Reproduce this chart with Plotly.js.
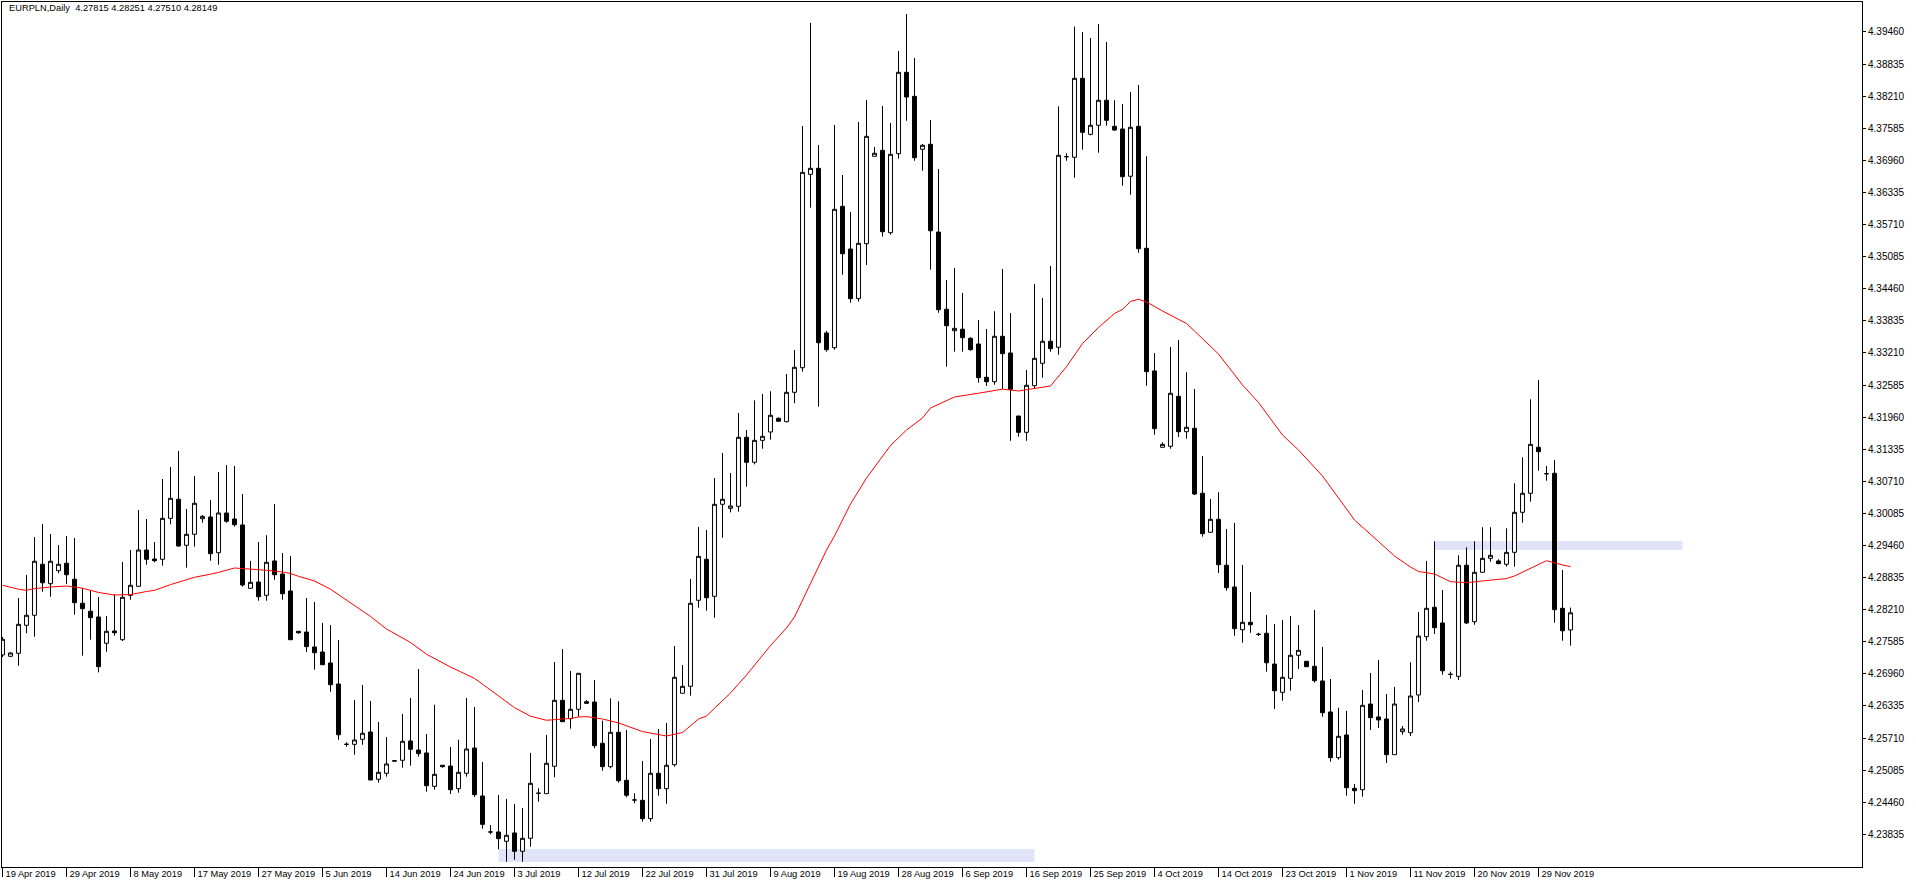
<!DOCTYPE html>
<html>
<head>
<meta charset="utf-8">
<script src="https://cdn.plot.ly/plotly-3.0.1.min.js"></script>
<style>
  html, body { margin: 0; padding: 0; background: #ffffff; }
  #chart { width: 1916px; height: 888px; }
</style>
</head>
<body>
<div id="chart"></div>
<script>
// ---- header ----
const symbol = 'EURPLN';
const period = 'Daily';
const headerOHLC = ['4.27815', '4.28251', '4.27510', '4.28149'];

// ---- x tick labels (one every 8 bars) ----
const dateLabels = ['19 Apr 2019','29 Apr 2019','8 May 2019','17 May 2019','27 May 2019','5 Jun 2019',
  '14 Jun 2019','24 Jun 2019','3 Jul 2019','12 Jul 2019','22 Jul 2019','31 Jul 2019','9 Aug 2019',
  '19 Aug 2019','28 Aug 2019','6 Sep 2019','16 Sep 2019','25 Sep 2019','4 Oct 2019','14 Oct 2019',
  '23 Oct 2019','1 Nov 2019','11 Nov 2019','20 Nov 2019','29 Nov 2019'];
const labelEvery = 8;

// ---- y tick labels ----
const priceLabels = ['4.23835','4.24460','4.25085','4.25710','4.26335','4.26960','4.27585','4.28210',
  '4.28835','4.29460','4.30085','4.30710','4.31335','4.31960','4.32585','4.33210','4.33835','4.34460',
  '4.35085','4.35710','4.36335','4.36960','4.37585','4.38210','4.38835','4.39460'];

// ---- daily candles ----
const open = [4.27328,4.27302,4.27361,4.27906,4.28101,4.29094,4.28716,4.28969,4.29114,4.28802,
4.28335,4.28179,4.28068,4.27556,4.27795,4.27625,4.28490,4.28665,4.29372,4.29197,
4.29191,4.29989,4.30360,4.29464,4.29678,4.29982,4.30015,4.29319,4.30093,4.29976,
4.29860,4.28626,4.28749,4.28490,4.29159,4.28905,4.28574,4.27789,4.27775,4.27484,
4.27386,4.27172,4.26763,4.25588,4.25588,4.25686,4.25828,4.24907,4.25024,4.25269,
4.25277,4.25653,4.25478,4.25420,4.24770,4.25180,4.25166,4.24724,4.25024,4.25516,
4.24582,4.23881,4.23881,4.23700,4.23862,4.23505,4.23758,4.24635,4.24627,4.25160,
4.26445,4.26088,4.26270,4.26418,4.26412,4.25608,4.25153,4.25822,4.24887,4.24504,
4.24498,4.24140,4.25024,4.24724,4.25191,4.26582,4.26718,4.28393,4.29191,4.28470,
4.30262,4.30184,4.30223,4.31567,4.31080,4.31508,4.31670,4.31937,4.31871,4.32443,
4.32922,4.36688,4.36805,4.33599,4.33312,4.36065,4.35234,4.34267,4.35337,4.37039,
4.37156,4.35551,4.37090,4.38675,4.38207,4.37176,4.37273,4.35565,4.34060,4.33643,
4.33672,4.33495,4.33384,4.32736,4.32650,4.33534,4.33209,4.31982,4.31664,4.32572,
4.33008,4.33437,4.33320,4.37032,4.37020,4.38558,4.37467,4.37643,4.38130,4.37623,
4.37571,4.36650,4.37623,4.35248,4.32859,4.31372,4.31392,4.32365,4.31676,4.31742,
4.30477,4.29717,4.29970,4.29075,4.28652,4.27820,4.27964,4.27730,4.27750,4.27152,
4.26601,4.26873,4.27322,4.27205,4.27107,4.26822,4.26218,4.25328,4.25770,4.24731,
4.24704,4.26373,4.26121,4.26081,4.25386,4.25834,4.25814,4.26549,4.27684,4.28257,
4.27951,4.26951,4.26912,4.29075,4.27976,4.28938,4.29210,4.29159,4.29094,4.29327,
4.30106,4.30477,4.31372,4.30858,4.30866,4.28237,4.27815];
const high = [4.27678,4.27380,4.28437,4.28886,4.29626,4.29879,4.29684,4.29470,4.29645,4.29606,
4.28626,4.28579,4.28457,4.28087,4.28509,4.29139,4.29372,4.30151,4.29976,4.29528,
4.30755,4.30989,4.31301,4.30171,4.30813,4.30054,4.30346,4.30891,4.31028,4.31008,
4.30463,4.29159,4.29528,4.29659,4.30268,4.29314,4.29255,4.27789,4.28437,4.28360,
4.27951,4.27912,4.27620,4.25627,4.26451,4.26744,4.26432,4.26023,4.25731,4.25283,
4.26179,4.26490,4.27055,4.25789,4.26359,4.25180,4.25536,4.25678,4.26490,4.26315,
4.25244,4.24017,4.24602,4.24524,4.24426,4.24348,4.25420,4.24731,4.25770,4.27191,
4.27445,4.27016,4.26971,4.26451,4.26841,4.26048,4.26484,4.26426,4.25867,4.24635,
4.25264,4.25692,4.25887,4.26004,4.27503,4.27133,4.28808,4.29821,4.29762,4.30774,
4.31262,4.30872,4.32041,4.31709,4.32287,4.32410,4.32463,4.31957,4.32800,4.33267,
4.37629,4.39636,4.37260,4.33638,4.37649,4.36675,4.35954,4.37707,4.38136,4.37221,
4.38019,4.37688,4.39090,4.39810,4.38953,4.37279,4.37746,4.36792,4.34630,4.34864,
4.34378,4.33514,4.33851,4.33676,4.34021,4.34845,4.33988,4.31982,4.32878,4.34552,
4.34280,4.34903,4.38013,4.37098,4.39564,4.39460,4.39343,4.39616,4.39265,4.38130,
4.38058,4.38291,4.38428,4.37039,4.33209,4.31469,4.33326,4.33462,4.32833,4.32508,
4.31203,4.30366,4.30496,4.29782,4.29899,4.29081,4.28554,4.27761,4.28107,4.27931,
4.28009,4.28087,4.27912,4.27205,4.28204,4.27484,4.26860,4.26301,4.26238,4.24815,
4.26646,4.26977,4.27230,4.26568,4.26705,4.25945,4.27185,4.28165,4.29159,4.29542,
4.28593,4.27002,4.29269,4.29425,4.29542,4.29815,4.29815,4.29191,4.29795,4.30672,
4.31178,4.32307,4.32683,4.31008,4.31125,4.28983,4.28251];
const low = [4.27289,4.27295,4.27119,4.27750,4.27684,4.28560,4.28463,4.28919,4.28710,4.28112,
4.27314,4.27625,4.26990,4.27392,4.27703,4.27601,4.28404,4.28665,4.29086,4.29133,
4.29067,4.29873,4.29437,4.29028,4.29437,4.29904,4.29164,4.29086,4.29904,4.29827,
4.28658,4.28626,4.28385,4.28385,4.28794,4.28404,4.27625,4.27742,4.27386,4.27041,
4.27138,4.26613,4.25678,4.25542,4.25386,4.25580,4.24893,4.24840,4.24958,4.25254,
4.25133,4.25172,4.25348,4.24666,4.24704,4.25133,4.24621,4.24646,4.24958,4.24563,
4.23945,4.23836,4.23544,4.23302,4.23341,4.23302,4.23595,4.24471,4.24627,4.24946,
4.26029,4.25893,4.26127,4.26387,4.25510,4.25074,4.25121,4.24840,4.24557,4.24440,
4.24081,4.24081,4.24588,4.24432,4.25153,4.26582,4.26535,4.28249,4.28190,4.28054,
4.29612,4.30106,4.30118,4.30606,4.31041,4.31345,4.31520,4.31879,4.31859,4.32229,
4.32845,4.36038,4.32163,4.33234,4.33273,4.34733,4.34188,4.34208,4.34923,4.37039,
4.35474,4.35512,4.36993,4.37732,4.36953,4.36758,4.34831,4.33993,4.32942,4.33234,
4.33234,4.33253,4.32630,4.32566,4.32591,4.32508,4.31500,4.31579,4.31500,4.32527,
4.32728,4.33234,4.33175,4.36953,4.36622,4.37168,4.37448,4.37109,4.37635,4.37537,
4.36467,4.36291,4.35161,4.32572,4.31617,4.31372,4.31345,4.31573,4.31540,4.30444,
4.29632,4.29717,4.28925,4.28579,4.27703,4.27567,4.27761,4.27697,4.27002,4.26276,
4.26437,4.26632,4.27055,4.27100,4.26788,4.26127,4.25250,4.25289,4.24588,4.24432,
4.24569,4.25867,4.25906,4.25225,4.25386,4.25775,4.25750,4.26412,4.27606,4.27736,
4.26943,4.26866,4.26841,4.27931,4.27917,4.28938,4.29145,4.29106,4.29048,4.29048,
4.29904,4.30313,4.30916,4.30722,4.27956,4.27606,4.27510];
const close = [4.27633,4.27367,4.27925,4.28101,4.29153,4.28735,4.29153,4.29094,4.28891,4.28346,
4.28230,4.28054,4.27100,4.27789,4.27761,4.28451,4.28685,4.29372,4.29191,4.29164,
4.29989,4.30379,4.29450,4.29678,4.30282,4.30028,4.29300,4.30093,4.29932,4.29865,
4.28691,4.28743,4.28463,4.29133,4.28891,4.28521,4.27625,4.27761,4.27490,4.27372,
4.27138,4.26749,4.25775,4.25588,4.25672,4.25803,4.24893,4.25043,4.25205,4.25262,
4.25647,4.25491,4.25406,4.24782,4.25004,4.25153,4.24704,4.25043,4.25497,4.24607,
4.24030,4.23881,4.23751,4.23817,4.23505,4.23758,4.24829,4.24635,4.25219,4.26445,
4.26029,4.26270,4.26971,4.26387,4.25561,4.25153,4.25822,4.24879,4.24596,4.24504,
4.24140,4.25024,4.24724,4.25180,4.26893,4.26718,4.28335,4.29249,4.28443,4.30262,
4.30360,4.30229,4.31567,4.31080,4.31508,4.31586,4.31996,4.31879,4.32443,4.32930,
4.36727,4.36805,4.33409,4.33273,4.36007,4.35142,4.34267,4.35345,4.37428,4.37098,
4.35571,4.37078,4.38675,4.38194,4.37012,4.37254,4.35590,4.34052,4.33740,4.33689,
4.33507,4.33273,4.32728,4.32650,4.33534,4.33195,4.32502,4.31664,4.32580,4.33105,
4.33437,4.33293,4.37059,4.37032,4.38558,4.37506,4.37643,4.38130,4.37740,4.37551,
4.36642,4.37604,4.35240,4.32845,4.31735,4.31430,4.32424,4.31676,4.31762,4.30463,
4.29690,4.29970,4.29086,4.28638,4.27840,4.27964,4.27917,4.27730,4.27177,4.26632,
4.26893,4.27322,4.27419,4.27100,4.26827,4.26204,4.25328,4.25744,4.24743,4.24685,
4.26348,4.26107,4.26062,4.25386,4.26373,4.25887,4.26529,4.27697,4.28237,4.27859,
4.27021,4.26951,4.29075,4.27951,4.28938,4.29210,4.29269,4.29106,4.29327,4.30106,
4.30477,4.31430,4.31287,4.30858,4.28210,4.27800,4.28149];

// ---- moving average (red line), read at sample bars ----
const maBar = [0,2,3,4,6,8,10,12,14,16,18,19,21,23,24,26,27,29,31,33,35,36,37,39,41,43,45,46,48,50,
51,53,56,59,61,64,66,68,70,71,72,73,75,77,80,83,85,87,88,91,93,95,96,98,99,101,103,104,106,108,
111,113,115,116,119,122,125,127,129,131,133,135,137,139,140,141,142,143,145,146,148,149,151,152,
155,157,160,162,165,167,169,172,174,176,177,179,181,183,185,188,189,191,193,195,196];
const maValue = [4.28685,4.28609,4.28587,4.28621,4.28652,4.28671,4.28628,4.28546,4.28496,4.28505,
4.28564,4.28587,4.28698,4.28788,4.28841,4.28901,4.28936,4.29022,4.29003,4.28977,4.28944,4.28915,
4.28860,4.28769,4.28609,4.28399,4.28185,4.28078,4.27834,4.27649,4.27571,4.27343,4.27093,4.26873,
4.26651,4.26303,4.26136,4.26056,4.26081,4.26091,4.26120,4.26128,4.26081,4.26005,4.25836,4.25750,
4.25818,4.26081,4.26140,4.26587,4.26938,4.27328,4.27511,4.27853,4.28068,4.28720,4.29372,4.29645,
4.30268,4.30775,4.31407,4.31709,4.31943,4.32138,4.32352,4.32426,4.32504,4.32469,4.32523,4.32566,
4.32942,4.33393,4.33705,4.33978,4.34057,4.34212,4.34256,4.34202,4.34027,4.33949,4.33783,4.33637,
4.33335,4.33189,4.32586,4.32245,4.31612,4.31320,4.30814,4.30385,4.29957,4.29538,4.29256,4.29041,
4.28954,4.28905,4.28755,4.28736,4.28763,4.28817,4.28866,4.29022,4.29164,4.29081,4.29048];

// ---- shaded zones (bar from, bar to, price low, price high) ----
const zoneBarFrom = [62, 179];
const zoneBarTo = [129, 210];
const zoneLow = [4.23296, 4.29372];
const zoneHigh = [4.23550, 4.29548];

const bars = open.map((_, i) => i);
const font = { family: 'Liberation Sans, Arial, sans-serif', size: 10, color: '#000000' };
const smallFont = { family: 'Liberation Sans, Arial, sans-serif', size: 9.3, color: '#000000' };

const traces = [
  {
    type: 'candlestick',
    x: bars, open: open, high: high, low: low, close: close,
    increasing: { line: { color: '#000000', width: 1 }, fillcolor: '#ffffff' },
    decreasing: { line: { color: '#000000', width: 1 }, fillcolor: '#000000' },
    whiskerwidth: 0,
    hoverinfo: 'skip',
    showlegend: false
  },
  {
    type: 'scatter', mode: 'lines',
    x: maBar, y: maValue,
    line: { color: '#ff0000', width: 1 },
    hoverinfo: 'skip', showlegend: false
  }
];

const shapes = zoneBarFrom.map((b, k) => ({
  type: 'rect', xref: 'x', yref: 'y', layer: 'below',
  x0: b, x1: zoneBarTo[k], y0: zoneLow[k], y1: zoneHigh[k],
  fillcolor: '#e1e3f8', line: { width: 0 }
}));

const layout = {
  width: 1916, height: 888,
  paper_bgcolor: '#ffffff', plot_bgcolor: '#ffffff',
  margin: { l: 2, r: 54, t: 2, b: 21, pad: 0 },
  font: font,
  showlegend: false,
  xaxis: {
    type: 'linear',
    range: [-0.0625, 232.4375],
    autorange: false, fixedrange: true,
    rangeslider: { visible: false },
    showgrid: false, zeroline: false,
    showline: true, mirror: true, linecolor: '#000000', linewidth: 1,
    ticks: 'outside', ticklen: 9, tickwidth: 1, tickcolor: '#000000',
    tickmode: 'array',
    tickvals: dateLabels.map((_, k) => k * labelEvery),
    ticktext: dateLabels,
    tickangle: 0,
    ticklabelposition: 'outside right',
    ticklabelstandoff: -2,
    ticklabelshift: 2,
    ticklabeloverflow: 'allow',
    tickfont: smallFont,
    automargin: false
  },
  yaxis: {
    side: 'right',
    range: [4.23199, 4.40044],
    autorange: false, fixedrange: true,
    showgrid: false, zeroline: false,
    showline: true, mirror: true, linecolor: '#000000', linewidth: 1,
    ticks: 'outside', ticklen: 3, tickwidth: 1, tickcolor: '#000000',
    tickmode: 'array',
    tickvals: priceLabels.map(Number),
    ticktext: priceLabels,
    tickfont: font,
    automargin: false
  },
  shapes: shapes,
  annotations: [{
    xref: 'paper', yref: 'paper', x: 0, y: 1,
    xanchor: 'left', yanchor: 'top',
    xshift: 5, yshift: 1,
    showarrow: false,
    text: symbol + ',' + period + '\u00a0\u00a0' + headerOHLC.join(' '),
    font: smallFont
  }]
};

Plotly.newPlot('chart', traces, layout, { staticPlot: true, displayModeBar: false });
</script>
</body>
</html>
